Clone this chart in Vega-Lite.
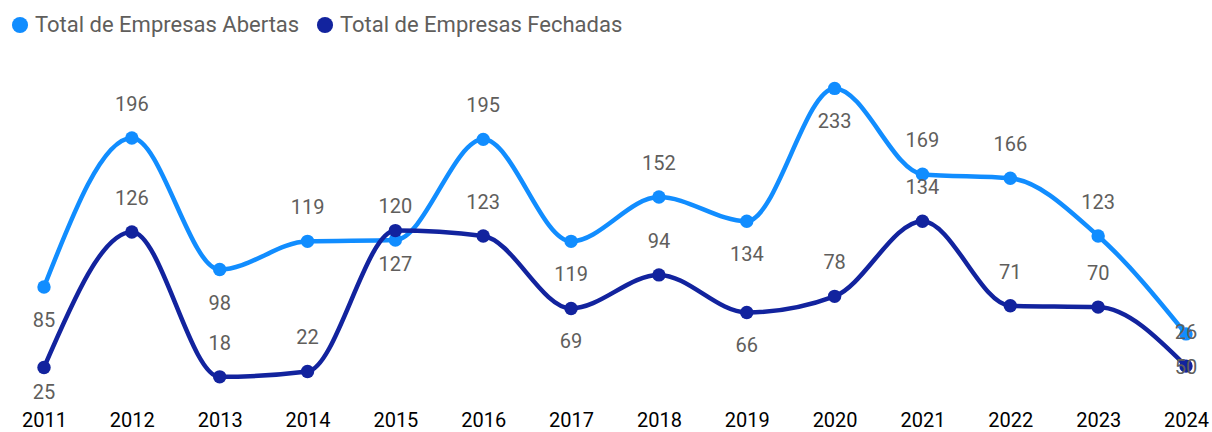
{
  "$schema": "https://vega.github.io/schema/vega-lite/v6.json",
  "autosize": {"type": "none"},
  "padding": {"left": 44, "top": 79, "right": 26, "bottom": 31},
  "width": 1142,
  "height": 322,
  "background": "#ffffff",
  "config": {
    "view": {"stroke": null},
    "font": "Roboto",
    "legend": {
      "orient": "none",
      "legendX": -35,
      "legendY": -65,
      "direction": "horizontal",
      "title": null,
      "labelFont": "Roboto",
      "labelFontSize": 22,
      "labelLimit": 0,
      "labelColor": "#605E5C",
      "symbolType": "circle",
      "symbolSize": 260,
      "symbolStrokeWidth": 0,
      "labelOffset": 4,
      "columnPadding": 14
    }
  },
  "data": {
    "values": [
      {"ano": "2011", "serie": "Total de Empresas Abertas", "valor": 85},
      {"ano": "2012", "serie": "Total de Empresas Abertas", "valor": 196},
      {"ano": "2013", "serie": "Total de Empresas Abertas", "valor": 98},
      {"ano": "2014", "serie": "Total de Empresas Abertas", "valor": 119},
      {"ano": "2015", "serie": "Total de Empresas Abertas", "valor": 120},
      {"ano": "2016", "serie": "Total de Empresas Abertas", "valor": 195},
      {"ano": "2017", "serie": "Total de Empresas Abertas", "valor": 119},
      {"ano": "2018", "serie": "Total de Empresas Abertas", "valor": 152},
      {"ano": "2019", "serie": "Total de Empresas Abertas", "valor": 134},
      {"ano": "2020", "serie": "Total de Empresas Abertas", "valor": 233},
      {"ano": "2021", "serie": "Total de Empresas Abertas", "valor": 169},
      {"ano": "2022", "serie": "Total de Empresas Abertas", "valor": 166},
      {"ano": "2023", "serie": "Total de Empresas Abertas", "valor": 123},
      {"ano": "2024", "serie": "Total de Empresas Abertas", "valor": 50},
      {"ano": "2011", "serie": "Total de Empresas Fechadas", "valor": 25},
      {"ano": "2012", "serie": "Total de Empresas Fechadas", "valor": 126},
      {"ano": "2013", "serie": "Total de Empresas Fechadas", "valor": 18},
      {"ano": "2014", "serie": "Total de Empresas Fechadas", "valor": 22},
      {"ano": "2015", "serie": "Total de Empresas Fechadas", "valor": 127},
      {"ano": "2016", "serie": "Total de Empresas Fechadas", "valor": 123},
      {"ano": "2017", "serie": "Total de Empresas Fechadas", "valor": 69},
      {"ano": "2018", "serie": "Total de Empresas Fechadas", "valor": 94},
      {"ano": "2019", "serie": "Total de Empresas Fechadas", "valor": 66},
      {"ano": "2020", "serie": "Total de Empresas Fechadas", "valor": 78},
      {"ano": "2021", "serie": "Total de Empresas Fechadas", "valor": 134},
      {"ano": "2022", "serie": "Total de Empresas Fechadas", "valor": 71},
      {"ano": "2023", "serie": "Total de Empresas Fechadas", "valor": 70},
      {"ano": "2024", "serie": "Total de Empresas Fechadas", "valor": 26}
    ]
  },
  "encoding": {
    "x": {
      "field": "ano",
      "type": "ordinal",
      "scale": {"type": "point", "padding": 0},
      "axis": {
        "title": null,
        "labelAngle": 0,
        "labelFont": "Roboto",
        "labelFontSize": 20,
        "labelColor": "#000000",
        "labelPadding": 9,
        "ticks": false,
        "domain": false,
        "grid": false
      }
    },
    "y": {
      "field": "valor",
      "type": "quantitative",
      "scale": {"domain": [0, 240], "nice": false},
      "axis": null
    }
  },
  "layer": [
    {
      "mark": {"type": "line", "interpolate": "monotone", "strokeWidth": 4.5},
      "encoding": {
        "color": {
          "field": "serie",
          "type": "nominal",
          "scale": {
            "domain": ["Total de Empresas Abertas", "Total de Empresas Fechadas"],
            "range": ["#118DFF", "#12239E"]
          }
        }
      }
    },
    {
      "mark": {"type": "point", "filled": true, "size": 180, "opacity": 1},
      "encoding": {
        "color": {"field": "serie", "type": "nominal"}
      }
    },
    {
      "transform": [
        {"filter": "(datum.serie === 'Total de Empresas Abertas' && indexof(['2011','2013','2017','2019','2020','2024'], datum.ano) < 0) || (datum.serie === 'Total de Empresas Fechadas' && indexof(['2011','2015','2017','2019'], datum.ano) < 0)"}
      ],
      "mark": {"type": "text", "dy": -33, "fontSize": 20, "font": "Roboto", "color": "#605E5C", "baseline": "middle"},
      "encoding": {"text": {"field": "valor", "type": "quantitative"}}
    },
    {
      "transform": [
        {"filter": "(datum.serie === 'Total de Empresas Abertas' && indexof(['2011','2013','2017','2019','2020','2024'], datum.ano) >= 0) || (datum.serie === 'Total de Empresas Fechadas' && indexof(['2015','2017','2019'], datum.ano) >= 0)"}
      ],
      "mark": {"type": "text", "dy": 34, "fontSize": 20, "font": "Roboto", "color": "#605E5C", "baseline": "middle"},
      "encoding": {"text": {"field": "valor", "type": "quantitative"}}
    },
    {
      "transform": [
        {"filter": "datum.serie === 'Total de Empresas Fechadas' && datum.ano === '2011'"}
      ],
      "mark": {"type": "text", "dy": 26, "fontSize": 20, "font": "Roboto", "color": "#605E5C", "baseline": "middle"},
      "encoding": {"text": {"field": "valor", "type": "quantitative"}}
    }
  ]
}
